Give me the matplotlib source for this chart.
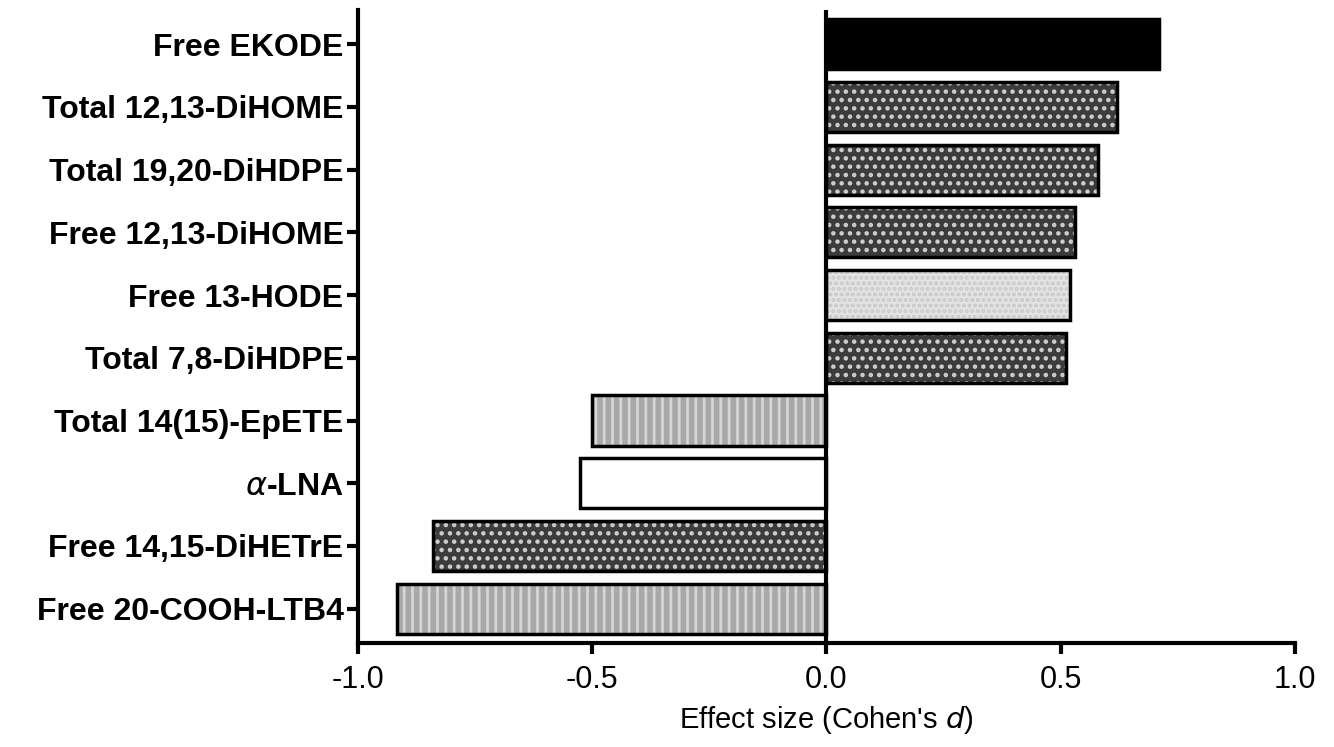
import numpy as np
import matplotlib
matplotlib.use("Agg")
import matplotlib.pyplot as plt

plt.rcParams['font.family'] = ['Liberation Sans', 'DejaVu Sans']
plt.rcParams['hatch.linewidth'] = 2.0

labels = ["Free EKODE", "Total 12,13-DiHOME", "Total 19,20-DiHDPE", "Free 12,13-DiHOME",
          "Free 13-HODE", "Total 7,8-DiHDPE", "Total 14(15)-EpETE", r"$\alpha$-LNA",
          "Free 14,15-DiHETrE", "Free 20-COOH-LTB4"]
effect = [0.71, 0.62, 0.58, 0.53, 0.52, 0.51, -0.50, -0.525, -0.84, -0.915]
styles = ["solid", "check", "check", "check", "dots", "check", "stripe", "open", "check", "stripe"]

# fill, hatch, hatch colour per style
style_map = {
    "solid": ("black", None, "black"),
    "check": ("#3c3c3c", "..", "#cfcfcf"),
    "dots": ("#e4e4e4", "...", "#c8c8c8"),
    "stripe": ("#a8a8a8", "||", "#d6d6d6"),
    "open": ("white", None, "white"),
}

fig = plt.figure(figsize=(13.34, 7.47), dpi=100)
ax = fig.add_axes([0.268, 0.139, 0.703, 0.848])

ypos = np.arange(len(labels))
h = 0.8
for y, v, s in zip(ypos, effect, styles):
    fc, hatch, hc = style_map[s]
    ax.barh(y, v, height=h, color=fc, edgecolor=hc, hatch=hatch, linewidth=0, zorder=2)
    ax.barh(y, v, height=h, fill=False, edgecolor="black", linewidth=2.5, zorder=3)

ax.axvline(0, color="black", linewidth=3, zorder=4)
ax.set_xlim(-1.0, 1.0)
ax.set_ylim(9.55, -0.55)
ax.set_yticks(ypos)
ax.set_yticklabels(labels, fontsize=23, fontweight="bold")
ax.set_xticks([-1.0, -0.5, 0.0, 0.5, 1.0])
ax.set_xticklabels(["-1.0", "-0.5", "0.0", "0.5", "1.0"], fontsize=22)
ax.set_xlabel("Effect size (Cohen's $\\it{d}$)", fontsize=21, labelpad=6)

for side in ["top", "right"]:
    ax.spines[side].set_visible(False)
for side in ["left", "bottom"]:
    ax.spines[side].set_linewidth(3)
ax.tick_params(axis="both", width=3, length=8, direction="out")
ax.tick_params(axis="x", pad=8)
ax.tick_params(axis="y", pad=2)

fig.savefig("out.png", dpi=100)
